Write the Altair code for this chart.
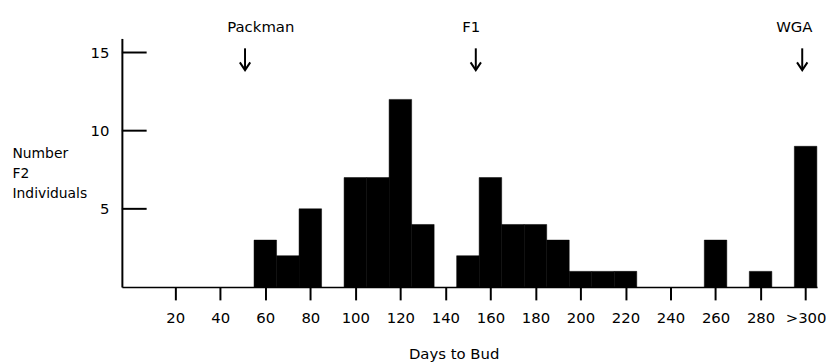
import altair as alt
import pandas as pd

# ---- data ----
bin_centers = [60, 70, 80, 100, 110, 120, 130, 150, 160, 170, 180, 190, 200, 210, 220, 260, 280, 300]
counts = [3, 2, 5, 7, 7, 12, 4, 2, 7, 4, 4, 3, 1, 1, 1, 3, 1, 9]
bin_width = 10

x_ticks = [20, 40, 60, 80, 100, 120, 140, 160, 180, 200, 220, 240, 260, 280, 300]
x_tick_labels = ["20", "40", "60", "80", "100", "120", "140", "160", "180", "200",
                 "220", "240", "260", "280", ">300"]
y_ticks = [5, 10, 15]

marker_names = ["Packman", "F1", "WGA"]
marker_label_days = [58, 151.5, 295]
marker_arrow_days = [51, 153.5, 298.5]

FONT = "DejaVu Sans"

bars_df = pd.DataFrame({"center": bin_centers, "count": counts})
yt_df = pd.DataFrame({"v": y_ticks})
lab_df = pd.DataFrame({"name": marker_names, "day": marker_label_days})
arr_df = pd.DataFrame({"day": marker_arrow_days})

label_expr = ""
for v, l in zip(x_ticks, x_tick_labels):
    label_expr += f"datum.value == {v} ? '{l}' : "
label_expr += "datum.label"

xscale = alt.Scale(domain=[-3.7, 305.1], nice=False, zero=False)
yscale = alt.Scale(domain=[0, 15.9], nice=False)

xaxis = alt.Axis(
    values=x_ticks, labelExpr=label_expr, grid=False,
    tickSize=13, tickWidth=2, tickColor="black",
    domainColor="black", domainWidth=1.5,
    labelFont=FONT, labelFontSize=15, labelColor="black", labelPadding=11,
    labelFlush=False, labelOverlap=False,
    title="Days to Bud", titleFont=FONT, titleFontSize=15, titleFontWeight="normal",
    titleColor="black", titleX=335, titleY=72, titleBaseline="alphabetic",
    titleAlign="center")

yaxis = alt.Axis(
    values=y_ticks, ticks=False, grid=False,
    domainColor="black", domainWidth=2,
    labelFont=FONT, labelFontSize=15, labelColor="black", labelPadding=13,
    title=["Number", "F2", "Individuals"], titleFont=FONT, titleFontSize=14,
    titleFontWeight="normal", titleColor="black", titleAngle=0,
    titleAlign="left", titleBaseline="alphabetic", titleX=-111, titleY=120,
    titleLineHeight=20.5)

bars = alt.Chart(bars_df).transform_calculate(
    start=f"datum.center - {bin_width}/2",
    end=f"datum.center + {bin_width}/2",
    base="0",
).mark_rect(color="black", stroke="black", strokeWidth=0.5).encode(
    x=alt.X("start:Q", scale=xscale, axis=xaxis),
    x2="end:Q",
    y=alt.Y("count:Q", scale=yscale, axis=yaxis),
    y2="base:Q",
)

yticks = alt.Chart(yt_df).mark_rule(color="black", strokeWidth=2).encode(
    y=alt.Y("v:Q", scale=yscale, axis=yaxis),
    x=alt.value(0), x2=alt.value(25),
)

labels = alt.Chart(lab_df).mark_text(
    font=FONT, fontSize=15, color="black", baseline="alphabetic", align="center"
).encode(
    x=alt.X("day:Q", scale=xscale, axis=xaxis),
    y=alt.value(-7),
    text="name:N",
)

arrow_lines = alt.Chart(arr_df).mark_rule(color="black", strokeWidth=2).encode(
    x=alt.X("day:Q", scale=xscale, axis=xaxis),
    y=alt.value(10), y2=alt.value(31),
)

arrow_heads = alt.Chart(arr_df).mark_point(
    shape="M-1,-1.5L0,0L1,-1.5", filled=False, stroke="black", strokeWidth=2,
    size=110, opacity=1
).encode(
    x=alt.X("day:Q", scale=xscale, axis=xaxis),
    y=alt.value(32),
)

chart = alt.layer(bars, yticks, labels, arrow_lines, arrow_heads).properties(
    width=702, height=251,
    autosize=alt.AutoSizeParams(type="none"),
    padding={"left": 115, "top": 29, "right": 9, "bottom": 75},
    background="white",
).configure_view(stroke=None)

chart.save("out.html", embed_options={"renderer": "svg", "actions": False})
